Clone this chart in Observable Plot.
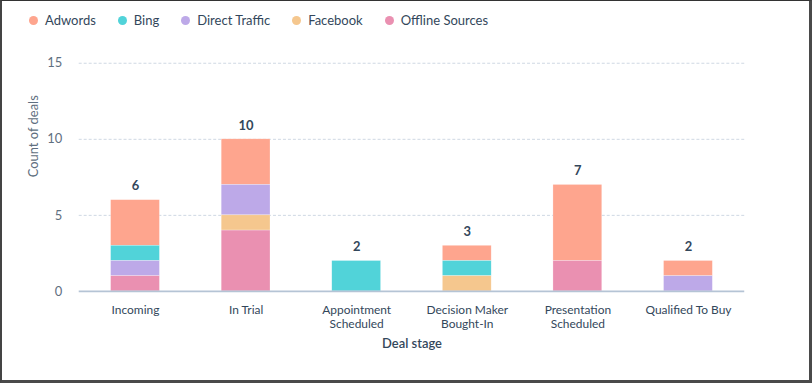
<!DOCTYPE html>
<html>
<head>
<meta charset="utf-8">
<script src="https://cdn.jsdelivr.net/npm/d3@7"></script>
<script src="https://cdn.jsdelivr.net/npm/@observablehq/plot@0.6"></script>
<style>
  html, body { margin: 0; padding: 0; background: #fff; }
  #frame {
    position: relative; width: 812px; height: 383px; box-sizing: border-box;
    border-top: 1px solid #333; border-left: 2px solid #444;
    border-right: 3px solid #4a4a4a; border-bottom: 3px solid #4a4a4a;
    overflow: hidden; font-family: Lato, "Open Sans", sans-serif;
  }
  #legend {
    position: absolute; left: 27px; top: 11px; display: flex; align-items: center;
    font-size: 13px; color: #33475b;
  }
  #legend .item { display: flex; align-items: center; margin-right: 22px; }
  #legend .dot { width: 9px; height: 9px; border-radius: 50%; margin-right: 7px; }
  #chart { position: absolute; left: -2px; top: -1px; }
</style>
</head>
<body>
<div id="frame">
  <div id="legend"></div>
  <div id="chart"></div>
</div>
<script>
const stages = ["Incoming", "In Trial", "Appointment Scheduled", "Decision Maker Bought-In", "Presentation Scheduled", "Qualified To Buy"];
const stageLabels = ["Incoming", "In Trial", "Appointment\nScheduled", "Decision Maker\nBought-In", "Presentation\nScheduled", "Qualified To Buy"];
const sources = ["Adwords", "Bing", "Direct Traffic", "Facebook", "Offline Sources"];
const colors = ["#fea58e", "#51d3d9", "#bda9e8", "#f5c78e", "#ea90b1"];
const adwords  = [3, 3, 0, 1, 5, 1];
const bing     = [1, 0, 2, 1, 0, 0];
const direct   = [1, 2, 0, 0, 0, 1];
const facebook = [0, 1, 0, 1, 0, 0];
const offline  = [1, 4, 0, 0, 2, 0];
const yTicks = [0, 5, 10, 15];

const seriesValues = [adwords, bing, direct, facebook, offline];
const data = [];
sources.forEach((s, i) => stages.forEach((st, j) => {
  if (seriesValues[i][j] > 0) data.push({stage: st, source: s, count: seriesValues[i][j]});
}));
const stackOrder = ["Offline Sources", "Facebook", "Direct Traffic", "Bing", "Adwords"];

const legend = document.getElementById("legend");
sources.forEach((s, i) => {
  const it = document.createElement("div"); it.className = "item";
  const d = document.createElement("div"); d.className = "dot"; d.style.background = colors[i];
  const t = document.createElement("span"); t.textContent = s;
  it.appendChild(d); it.appendChild(t); legend.appendChild(it);
});

const labelMap = new Map(stages.map((s, i) => [s, stageLabels[i]]));

const chart = Plot.plot({
  width: 812, height: 383,
  marginTop: 63, marginBottom: 91, marginLeft: 79, marginRight: 65,
  style: {fontFamily: "Lato, 'Open Sans', sans-serif", fontSize: "13px", background: "transparent"},
  x: {domain: stages, paddingInner: 0.56, paddingOuter: 0.28, label: null},
  y: {domain: [0, 15], ticks: yTicks, label: null},
  color: {domain: sources, range: colors},
  marks: [
    Plot.gridY(yTicks.filter(d => d > 0), {stroke: "#cfd8e3", strokeOpacity: 1, strokeDasharray: "3,2"}),
    Plot.barY(data, {x: "stage", y: "count", fill: "source", order: stackOrder, stroke: "white", strokeWidth: 0.5, strokeOpacity: 0.5}),
    Plot.ruleY([0], {stroke: "#b5c4d5", strokeWidth: 1.6}),
    Plot.text(data, Plot.groupX({y: "sum", text: "sum"}, {x: "stage", y: "count", text: "count", dy: -14, fontWeight: "bold", fontSize: 13, fill: "#33475b"})),
    Plot.axisY({ticks: yTicks, tickSize: 0, tickPadding: 17, fill: "#5f6f80", fontSize: 13, label: null}),
    Plot.axisX({tickSize: 0, tickPadding: 12, fill: "#33475b", fontSize: 12, lineHeight: 1.2, tickFormat: d => labelMap.get(d), label: null}),
    Plot.text(["Count of deals"], {frameAnchor: "left", dx: -46, rotate: -90, fill: "#5f6f80", fontSize: 13}),
    Plot.text(["Deal stage"], {frameAnchor: "bottom", dy: 57, fill: "#33475b", fontSize: 13, fontWeight: 600})
  ]
});
document.getElementById("chart").appendChild(chart);
</script>
</body>
</html>
